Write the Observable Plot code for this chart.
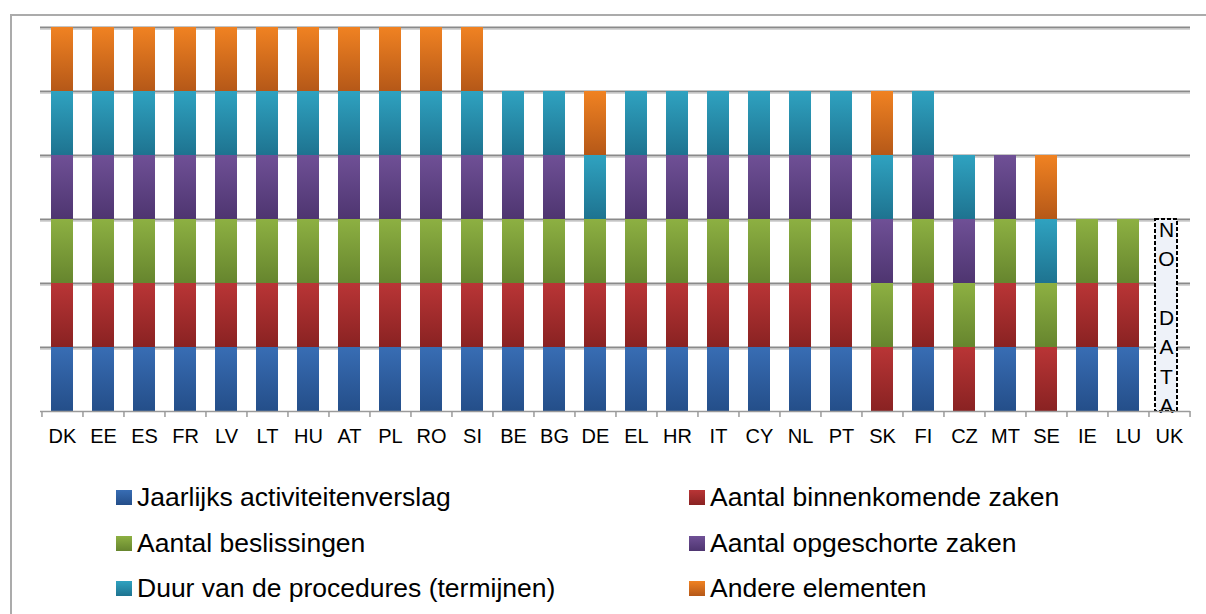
<!DOCTYPE html>
<html><head><meta charset="utf-8">
<script src="https://cdn.jsdelivr.net/npm/d3@7"></script>
<script src="https://cdn.jsdelivr.net/npm/@observablehq/plot@0.6"></script>
<style>
body{margin:0;width:1206px;height:614px;overflow:hidden;background:#fff;font-family:"Liberation Sans",Arial,sans-serif;position:relative}
#frame{position:absolute;left:10px;top:14px;width:1300px;height:700px;border:2px solid #ababab;box-sizing:border-box}
#chart{position:absolute;left:0;top:0}
#legend{position:absolute;left:0;top:0;width:1206px;height:614px}
.item{position:absolute;display:flex;align-items:center;font-size:26.5px;line-height:30px;color:#000;white-space:nowrap}
.sw{width:16px;height:15px;margin-right:5px}
</style></head><body>
<div id="frame"></div><div id="chart"></div><div id="legend"></div>
<script>
const countries = ["DK","EE","ES","FR","LV","LT","HU","AT","PL","RO","SI","BE","BG","DE","EL","HR","IT","CY","NL","PT","SK","FI","CZ","MT","SE","IE","LU","UK"];
const seriesNames = ["Jaarlijks activiteitenverslag","Aantal binnenkomende zaken","Aantal beslissingen","Aantal opgeschorte zaken","Duur van de procedures (termijnen)","Andere elementen"];
// 1 = element used by that country
const jaarlijks     = [1,1,1,1,1,1,1,1,1,1,1, 1,1,1, 1,1,1,1,1,1, 0,1,0,1,0,1,1,0];
const binnenkomende = [1,1,1,1,1,1,1,1,1,1,1, 1,1,1, 1,1,1,1,1,1, 1,1,1,1,1,1,1,0];
const beslissingen  = [1,1,1,1,1,1,1,1,1,1,1, 1,1,1, 1,1,1,1,1,1, 1,1,1,1,1,1,1,0];
const opgeschorte   = [1,1,1,1,1,1,1,1,1,1,1, 1,1,0, 1,1,1,1,1,1, 1,1,1,1,0,0,0,0];
const duur          = [1,1,1,1,1,1,1,1,1,1,1, 1,1,1, 1,1,1,1,1,1, 1,1,1,0,1,0,0,0];
const andere        = [1,1,1,1,1,1,1,1,1,1,1, 0,0,1, 0,0,0,0,0,0, 1,0,0,0,1,0,0,0];
const noDataCountries = ["UK"];
const noDataHeights = [3];
const noDataLabel = "N\nO\n\u00a0\nD\nA\nT\nA";

const gradTop    = ["#386db4","#b93536","#8db042","#6f5096","#2fa2c0","#f08222"];
const gradBottom = ["#244e89","#892222","#66852e","#4e3570","#1e7390","#b55818"];

const seriesValues = [jaarlijks, binnenkomende, beslissingen, opgeschorte, duur, andere];
const rows = [];
countries.forEach((c, i) => seriesValues.forEach((vals, s) => {
  if (vals[i]) rows.push({country: c, series: seriesNames[s], value: vals[i]});
}));
const noData = noDataCountries.map((c, i) => ({country: c, height: noDataHeights[i], label: noDataLabel}));

const W = 1206, mL = 40, mR = 16;
const half = (W - mL - mR) / countries.length / 2;

const svg = Plot.plot({
  width: W, height: 460,
  marginLeft: mL, marginRight: mR, marginTop: 27, marginBottom: 49,
  style: {fontFamily: "'Liberation Sans', Arial, sans-serif", fontSize: "20px", color: "#000", background: "transparent"},
  x: {domain: countries, paddingInner: 0.464, paddingOuter: 0.232, tickSize: 0, tickPadding: 17, label: null},
  y: {domain: [0, 6], axis: null},
  color: {type: "ordinal", domain: seriesNames, range: seriesNames.map((_, i) => `url(#grad${i})`)},
  marks: [
    Plot.ruleY(d3.range(1, 7), {stroke: "#d6d6d6", strokeWidth: 1, dy: 2}),
    Plot.ruleY(d3.range(1, 7), {stroke: "#8a8a8a", strokeWidth: 2}),
    Plot.barY(rows, {x: "country", y: "value", fill: "series"}),
    Plot.barY(noData, {x: "country", y: "height", fill: "#eef2f9", stroke: "#000", strokeWidth: 2, strokeDasharray: "4,2", dx: -3}),
    Plot.text(noData, {x: "country", y: d => d.height / 2, text: "label", lineHeight: 1.4, fontSize: 21, fill: "#000", dx: -3}),
    Plot.ruleY([0], {stroke: "#9a9a9a", strokeWidth: 1.5}),
    Plot.ruleX(countries, {x: d => d, y1: 0, y2: 0, insetBottom: -6, dx: -half, stroke: "#9a9a9a", strokeWidth: 1.5}),
    Plot.ruleX(countries.slice(-1), {x: d => d, y1: 0, y2: 0, insetBottom: -6, dx: half, stroke: "#9a9a9a", strokeWidth: 1.5})
  ]
});
const defs = d3.select(svg).insert("defs", ":first-child");
gradTop.forEach((c, i) => {
  const g = defs.append("linearGradient").attr("id", "grad" + i)
    .attr("x1", 0).attr("y1", 0).attr("x2", 0).attr("y2", 1);
  g.append("stop").attr("offset", "0%").attr("stop-color", c);
  g.append("stop").attr("offset", "100%").attr("stop-color", gradBottom[i]);
});
document.getElementById("chart").appendChild(svg);

// legend: two columns, row-major order
const legend = document.getElementById("legend");
const colX = [116, 689], rowY = [497, 543, 588];
seriesNames.forEach((name, i) => {
  const it = document.createElement("div");
  it.className = "item";
  it.style.left = colX[i % 2] + "px";
  it.style.top = (rowY[Math.floor(i / 2)] - 15) + "px";
  const sw = document.createElement("span");
  sw.className = "sw";
  sw.style.background = `linear-gradient(${gradTop[i]}, ${gradBottom[i]})`;
  const tx = document.createElement("span");
  tx.textContent = name;
  it.appendChild(sw); it.appendChild(tx);
  legend.appendChild(it);
});
</script></body></html>
